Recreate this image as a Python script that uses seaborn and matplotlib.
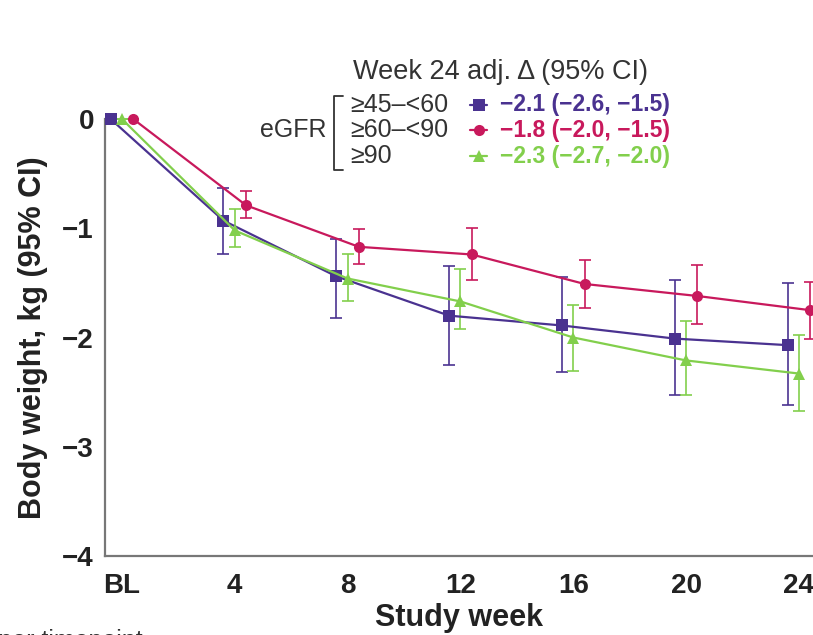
import matplotlib
matplotlib.use("Agg")
import matplotlib.pyplot as plt
import seaborn as sns
import pandas as pd
from matplotlib.lines import Line2D

weeks = [0, 4, 8, 12, 16, 20, 24]
week_labels = ["BL", "4", "8", "12", "16", "20", "24"]
groups = ["≥45–<60", "≥60–<90", "≥90"]
wk24_text = ["−2.1 (−2.6, −1.5)", "−1.8 (−2.0, −1.5)", "−2.3 (−2.7, −2.0)"]

mean_45 = [0, -0.93, -1.44, -1.80, -1.89, -2.01, -2.07]
lo_45 = [0, -1.24, -1.82, -2.25, -2.32, -2.53, -2.62]
hi_45 = [0, -0.63, -1.10, -1.35, -1.45, -1.47, -1.50]

mean_60 = [0, -0.79, -1.17, -1.24, -1.51, -1.62, -1.75]
lo_60 = [0, -0.91, -1.33, -1.47, -1.73, -1.88, -2.01]
hi_60 = [0, -0.66, -1.01, -1.00, -1.29, -1.34, -1.49]

mean_90 = [0, -1.02, -1.46, -1.67, -2.00, -2.21, -2.33]
lo_90 = [0, -1.17, -1.67, -1.92, -2.31, -2.53, -2.67]
hi_90 = [0, -0.82, -1.24, -1.37, -1.70, -1.85, -1.98]

colors = ["#4a3290", "#c8195c", "#82cf4c"]
markers = ["s", "o", "^"]
offsets = [-0.4, 0.4, 0.0]

series = [(mean_45, lo_45, hi_45), (mean_60, lo_60, hi_60), (mean_90, lo_90, hi_90)]
rows = []
for g, off, (m, lo, hi) in zip(groups, offsets, series):
    for w, a, b, c in zip(weeks, m, lo, hi):
        rows.append({"group": g, "x": w + off, "mean": a, "lo": b, "hi": c})
df = pd.DataFrame(rows)

sns.set_style("white")
plt.rcParams["font.family"] = ["Liberation Sans", "DejaVu Sans"]

W, H = 813, 635
fig = plt.figure(figsize=(W / 100, H / 100), dpi=100)
ax = fig.add_axes([105 / W, 1 - 556 / H, 1 - 105 / W, (556 - 119) / H])


def px(x, y):
    return x / W, 1 - y / H


pal = dict(zip(groups, colors))
for g, c, mk in zip(groups, colors, markers):
    d = df[df.group == g]
    ax.errorbar(d["x"], d["mean"], yerr=[d["mean"] - d["lo"], d["hi"] - d["mean"]],
                fmt="none", ecolor=c, elinewidth=1.4, capsize=4, capthick=1.4,
                alpha=0.85, clip_on=False)
sns.lineplot(data=df, x="x", y="mean", hue="group", style="group",
             palette=pal, markers=dict(zip(groups, markers)), dashes=False,
             markersize=8, markeredgewidth=0, linewidth=1.6, legend=False,
             ax=ax, clip_on=False, zorder=3)

ax.set_xlim(-0.6, 24.5)
ax.set_ylim(-4, 0)
ax.set_xticks(weeks)
ax.set_xticklabels(week_labels)
ax.set_yticks([0, -1, -2, -3, -4])
ax.set_yticklabels(["0", "−1", "−2", "−3", "−4"])
for lab in ax.get_xticklabels() + ax.get_yticklabels():
    lab.set_fontweight("bold")
    lab.set_fontsize(20)
    lab.set_color("#222222")
ax.tick_params(axis="both", direction="out", length=5, width=1.2, color="#777777", pad=3)
ax.tick_params(axis="x", pad=7)
for s in ["top", "right"]:
    ax.spines[s].set_visible(False)
for s in ["left", "bottom"]:
    ax.spines[s].set_color("#777777")
    ax.spines[s].set_linewidth(1.6)
ax.set_xlabel("Study week", fontsize=22, fontweight="bold", color="#222222", labelpad=3)
ax.set_ylabel("Body weight, kg (95% CI)", fontsize=22, fontweight="bold", color="#222222", labelpad=10)

# legend block
fig.text(*px(353, 72), "Week 24 adj. Δ (95% CI)", fontsize=19.5, va="center", ha="left", color="#333333")
row_y = [105, 130, 156]
for y, g, c, mk, t in zip(row_y, groups, colors, markers, wk24_text):
    fig.text(*px(350, y), g, fontsize=18, va="center", ha="left", color="#333333")
    fig.add_artist(Line2D([470 / W, 487 / W], [1 - y / H] * 2, color=c, lw=1.6,
                          transform=fig.transFigure))
    fig.add_artist(Line2D([478.5 / W], [1 - y / H], color=c, marker=mk, markersize=8,
                          markeredgewidth=0, transform=fig.transFigure))
    fig.text(*px(500, y), t, fontsize=16.5, fontweight="bold", va="center", ha="left", color=c)
fig.text(*px(326, 130), "eGFR", fontsize=18, va="center", ha="right", color="#333333")
bx = [343 / W, 334 / W, 334 / W, 343 / W]
by = [1 - 96 / H, 1 - 96 / H, 1 - 170 / H, 1 - 170 / H]
fig.add_artist(Line2D(bx, by, color="#333333", lw=1.3, transform=fig.transFigure))

fig.text(*px(143, 641), "patients per timepoint", fontsize=18, va="center", ha="right", color="#333333")

fig.savefig("out.png", dpi=100)
